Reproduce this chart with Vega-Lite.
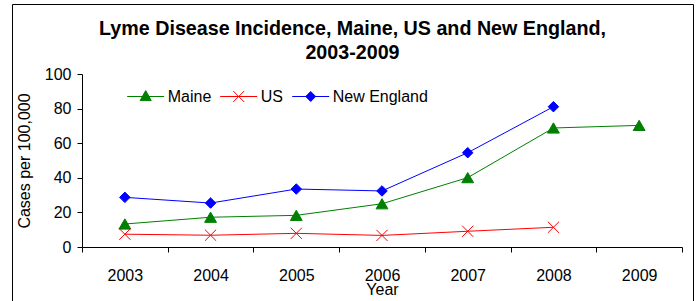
{
  "$schema": "https://vega.github.io/schema/vega-lite/v6.json",
  "width": 681,
  "height": 300,
  "autosize": {"type": "none"},
  "padding": {"left": 12, "top": 4, "right": 3, "bottom": 0},
  "background": "white",
  "title": {
    "text": ["Lyme Disease Incidence, Maine, US and New England,", "2003-2009"],
    "fontSize": 19.7,
    "fontWeight": "bold",
    "font": "Liberation Sans",
    "color": "#000000",
    "anchor": "middle",
    "frame": "group",
    "offset": -75,
    "baseline": "alphabetic",
    "lineHeight": 24
  },
  "data": {
    "values": [
      {"year": "2003", "series": "Maine", "value": 13.3},
      {"year": "2004", "series": "Maine", "value": 17.2},
      {"year": "2005", "series": "Maine", "value": 18.3},
      {"year": "2006", "series": "Maine", "value": 25.0},
      {"year": "2007", "series": "Maine", "value": 40.1},
      {"year": "2008", "series": "Maine", "value": 68.8},
      {"year": "2009", "series": "Maine", "value": 70.3},
      {"year": "2003", "series": "US", "value": 7.4},
      {"year": "2004", "series": "US", "value": 6.8},
      {"year": "2005", "series": "US", "value": 7.9},
      {"year": "2006", "series": "US", "value": 6.7},
      {"year": "2007", "series": "US", "value": 9.1},
      {"year": "2008", "series": "US", "value": 11.4},
      {"year": "2003", "series": "New England", "value": 28.7},
      {"year": "2004", "series": "New England", "value": 25.4},
      {"year": "2005", "series": "New England", "value": 33.5},
      {"year": "2006", "series": "New England", "value": 32.4},
      {"year": "2007", "series": "New England", "value": 54.5},
      {"year": "2008", "series": "New England", "value": 81.1}
    ]
  },
  "encoding": {
    "x": {
      "field": "year",
      "type": "ordinal",
      "scale": {"type": "band", "range": [70, 670], "paddingInner": 0, "paddingOuter": 0},
      "axis": {
        "title": "Year",
        "labelAngle": 0,
        "tickBand": "extent",
        "tickSize": 5,
        "labelPadding": 15,
        "labelFontSize": 16,
        "labelFont": "Liberation Sans",
        "labelColor": "#000000",
        "titleFont": "Liberation Sans",
        "titleFontSize": 16,
        "titleFontWeight": "normal",
        "titleColor": "#000000",
        "titleY": 47,
        "titleBaseline": "alphabetic",
        "offset": -57,
        "domainColor": "#000000",
        "tickColor": "#000000",
        "grid": false
      }
    },
    "y": {
      "field": "value",
      "type": "quantitative",
      "scale": {"domain": [0, 100], "range": [243, 70], "nice": false},
      "axis": {
        "title": "Cases per 100,000",
        "values": [0, 20, 40, 60, 80, 100],
        "offset": -70,
        "tickSize": 5,
        "labelPadding": 6,
        "labelFontSize": 16,
        "labelFont": "Liberation Sans",
        "labelColor": "#000000",
        "titleFont": "Liberation Sans",
        "titleFontSize": 16,
        "titleFontWeight": "normal",
        "titleColor": "#000000",
        "titleX": -52.2,
        "titleY": 156.5,
        "titleBaseline": "alphabetic",
        "domainColor": "#000000",
        "tickColor": "#000000",
        "grid": false
      }
    }
  },
  "resolve": {"scale": {"shape": "independent", "stroke": "independent", "fill": "independent", "size": "independent"}},
  "layer": [
    {
      "mark": {"type": "line", "strokeWidth": 1},
      "encoding": {
        "color": {
          "field": "series",
          "type": "nominal",
          "scale": {"domain": ["Maine", "US", "New England"], "range": ["#008000", "#FF0000", "#0000FF"]},
          "legend": null
        }
      }
    },
    {
      "mark": {"type": "point", "filled": true, "opacity": 1, "strokeWidth": 1},
      "encoding": {
        "color": {
          "field": "series",
          "type": "nominal",
          "scale": {"domain": ["Maine", "US", "New England"], "range": ["#008000", "#FF0000", "#0000FF"]},
          "legend": null
        },
        "stroke": {
          "field": "series",
          "type": "nominal",
          "scale": {"domain": ["Maine", "US", "New England"], "range": ["#008000", "#FF0000", "#0000FF"]},
          "legend": null
        },
        "shape": {
          "field": "series",
          "type": "nominal",
          "scale": {"domain": ["Maine", "US", "New England"], "range": ["triangle-up", "M-1,-1L1,1M-1,1L1,-1", "diamond"]},
          "legend": null
        },
        "size": {
          "field": "series",
          "type": "nominal",
          "scale": {"domain": ["Maine", "US", "New England"], "range": [140, 110, 100]},
          "legend": null
        }
      }
    },
    {
      "mark": {"type": "point", "filled": true, "opacity": 0, "strokeWidth": 1},
      "encoding": {
        "fill": {
          "field": "series",
          "type": "nominal",
          "scale": {"domain": ["Maine", "US", "New England"], "range": ["#008000", "#FF0000", "#0000FF"]},
          "legend": {"title": null, "orient": "none", "legendX": 114.7, "legendY": 73.5, "direction": "horizontal"}
        },
        "stroke": {
          "field": "series",
          "type": "nominal",
          "scale": {"domain": ["Maine", "US", "New England"], "range": ["#008000", "#FF0000", "#0000FF"]},
          "legend": {"title": null, "orient": "none", "legendX": 114.7, "legendY": 73.5, "direction": "horizontal"}
        },
        "shape": {
          "field": "series",
          "type": "nominal",
          "scale": {
            "domain": ["Maine", "US", "New England"],
            "range": [
              "M-1,0H1M0,-0.32L0.3,0.22L-0.3,0.22Z",
              "M-1,0H1M-0.3,-0.3L0.3,0.3M-0.3,0.3L0.3,-0.3",
              "M-1,0H1M0,-0.27L0.27,0L0,0.27L-0.27,0Z"
            ]
          },
          "legend": {"title": null, "orient": "none", "legendX": 114.7, "legendY": 73.5, "direction": "horizontal"}
        }
      }
    }
  ],
  "config": {
    "view": {"stroke": "#000000", "strokeWidth": 1},
    "font": "Liberation Sans",
    "legend": {
      "padding": 0,
      "symbolSize": 1369,
      "symbolStrokeWidth": 1,
      "symbolOpacity": 1,
      "labelFont": "Liberation Sans",
      "labelFontSize": 16,
      "labelColor": "#000000",
      "labelOffset": 3,
      "columnPadding": 6,
      "rowPadding": 0,
      "labelLimit": 0
    }
  }
}
